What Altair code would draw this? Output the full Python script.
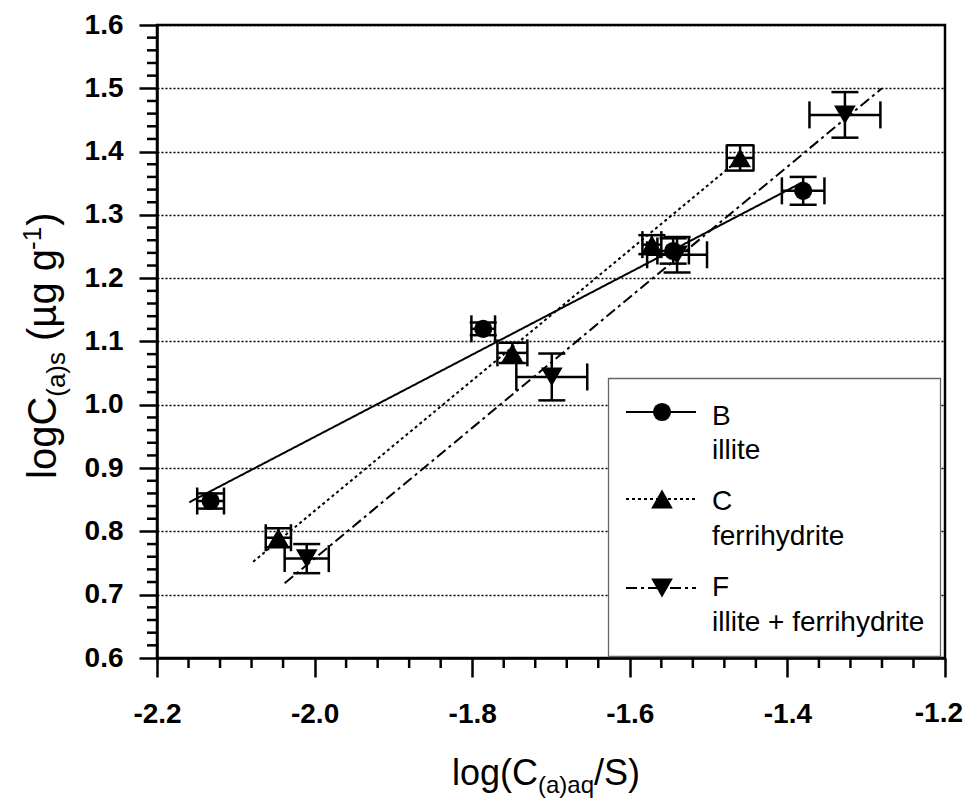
import altair as alt
import pandas as pd

# ---------------- data ----------------
series_names = ["B", "C", "F"]
series_labels = ["illite", "ferrihydrite", "illite + ferrihydrite"]

b_x = [-2.132, -1.786, -1.545, -1.380]
b_y = [0.848, 1.120, 1.243, 1.338]
b_xerr = [0.017, 0.015, 0.020, 0.027]
b_yerr = [0.012, 0.010, 0.020, 0.022]

c_x = [-2.046, -1.749, -1.572, -1.460]
c_y = [0.790, 1.082, 1.253, 1.390]
c_xerr = [0.016, 0.019, 0.012, 0.017]
c_yerr = [0.015, 0.016, 0.015, 0.020]

f_x = [-2.010, -1.699, -1.540, -1.327]
f_y = [0.757, 1.044, 1.237, 1.458]
f_xerr = [0.028, 0.045, 0.038, 0.045]
f_yerr = [0.023, 0.037, 0.028, 0.036]

# regression line end points
fit_b_x = [-2.159, -1.380]
fit_b_y = [0.846, 1.352]
fit_c_x = [-2.078, -1.455]
fit_c_y = [0.752, 1.394]
fit_f_x = [-2.038, -1.280]
fit_f_y = [0.718, 1.500]

x_major = [-2.2, -2.0, -1.8, -1.6, -1.4, -1.2]
y_major = [0.6, 0.7, 0.8, 0.9, 1.0, 1.1, 1.2, 1.3, 1.4, 1.5, 1.6]
x_minor = [-2.16, -2.12, -2.08, -2.04, -1.96, -1.92, -1.88, -1.84,
           -1.76, -1.72, -1.68, -1.64, -1.56, -1.52, -1.48, -1.44,
           -1.36, -1.32, -1.28, -1.24]
y_minor = [0.62, 0.64, 0.66, 0.68, 0.72, 0.74, 0.76, 0.78, 0.82, 0.84, 0.86, 0.88,
           0.92, 0.94, 0.96, 0.98, 1.02, 1.04, 1.06, 1.08, 1.12, 1.14, 1.16, 1.18,
           1.22, 1.24, 1.26, 1.28, 1.32, 1.34, 1.36, 1.38, 1.42, 1.44, 1.46, 1.48,
           1.52, 1.54, 1.56, 1.58]

# ---------------- tables ----------------
def pts(name, xs, ys, xe, ye):
    return pd.DataFrame({"series": name, "x": xs, "y": ys, "xerr": xe, "yerr": ye})

points = pd.concat([
    pts("B", b_x, b_y, b_xerr, b_yerr),
    pts("C", c_x, c_y, c_xerr, c_yerr),
    pts("F", f_x, f_y, f_xerr, f_yerr),
], ignore_index=True)

fits = {
    "B": pd.DataFrame({"x": fit_b_x, "y": fit_b_y}),
    "C": pd.DataFrame({"x": fit_c_x, "y": fit_c_y}),
    "F": pd.DataFrame({"x": fit_f_x, "y": fit_f_y}),
}

W, H = 788, 633
FONT = "Liberation Sans"
xs = alt.Scale(domain=[-2.2, -1.2], nice=False, zero=False)
ys = alt.Scale(domain=[0.6, 1.6], nice=False, zero=False)

label_expr = "replace(format(datum.value, '.1f'), '\u2212', '-')"
# the last x label is drawn separately (right-aligned) so it stays inside the page
x_label_expr = "datum.value > -1.25 ? '' : " + label_expr

x_axis = alt.Axis(values=x_major, labelExpr=x_label_expr, title=None, grid=False,
                  tickSize=19, tickWidth=2.5, tickColor="black",
                  domainWidth=2.5, domainColor="black",
                  labelFont=FONT, labelFontSize=28, labelFontWeight="bold",
                  labelColor="black", labelPadding=23, labelFlush=False)
y_axis = alt.Axis(values=y_major, labelExpr=label_expr, title=None, grid=True,
                  gridDash=[2, 2], gridColor="black", gridWidth=1.3, gridOpacity=1,
                  tickSize=18, tickWidth=2.5, tickColor="black",
                  domainWidth=2.5, domainColor="black",
                  labelFont=FONT, labelFontSize=28, labelFontWeight="bold",
                  labelColor="black", labelPadding=16, labelFlush=False)


def X(f):
    return alt.X(f, scale=xs, axis=x_axis)


def Y(f):
    return alt.Y(f, scale=ys, axis=y_axis)


one = pd.DataFrame({"k": [0]})

# minor ticks
minor_y = alt.Chart(pd.DataFrame({"v": y_minor})).mark_rule(
    color="black", strokeWidth=2.5
).encode(y=Y("v:Q"), x=alt.value(0), x2=alt.value(-10))
minor_x = alt.Chart(pd.DataFrame({"v": x_minor})).mark_rule(
    color="black", strokeWidth=2.5
).encode(x=X("v:Q"), y=alt.value(H), y2=alt.value(H + 10))

dashes = {"B": [1, 0], "C": [3, 3], "F": [11, 4, 3, 4]}
shapes = {"B": "circle", "C": "triangle-up", "F": "triangle-down"}
sizes = {"B": 330, "C": 470, "F": 470}

layers = [minor_y, minor_x]

for s in series_names:
    layers.append(
        alt.Chart(fits[s]).mark_line(color="black", strokeWidth=2, strokeDash=dashes[s]).encode(
            x=X("x:Q"), y=Y("y:Q"))
    )

err = alt.Chart(points).transform_calculate(
    xlo="datum.x - datum.xerr", xhi="datum.x + datum.xerr",
    ylo="datum.y - datum.yerr", yhi="datum.y + datum.yerr",
)
layers += [
    err.mark_rule(color="black", strokeWidth=2.5).encode(x=X("xlo:Q"), x2="xhi:Q", y=Y("y:Q")),
    err.mark_rule(color="black", strokeWidth=2.5).encode(x=X("x:Q"), y=Y("ylo:Q"), y2="yhi:Q"),
]
for fld in ["xlo", "xhi"]:
    layers.append(err.mark_tick(orient="vertical", size=27, thickness=2.5, color="black", opacity=1).encode(
        x=X(f"{fld}:Q"), y=Y("y:Q")))
for fld in ["ylo", "yhi"]:
    layers.append(err.mark_tick(orient="horizontal", size=27, thickness=2.5, color="black", opacity=1).encode(
        x=X("x:Q"), y=Y(f"{fld}:Q")))

for s in series_names:
    layers.append(
        alt.Chart(points).transform_filter(alt.datum.series == s).mark_point(
            filled=True, opacity=1, color="black", shape=shapes[s], size=sizes[s], strokeWidth=0
        ).encode(x=X("x:Q"), y=Y("y:Q"))
    )

# ---------------- legend ----------------
layers.append(
    alt.Chart(one).mark_rect(fill="white", stroke="#666666", strokeWidth=1.3).encode(
        x=alt.value(451.5), x2=alt.value(783.5), y=alt.value(353.5), y2=alt.value(631.5))
)
leg_y = {"B": 387, "C": 474, "F": 563}
for i, s in enumerate(series_names):
    layers.append(alt.Chart(one).mark_rule(color="black", strokeWidth=2, strokeDash=dashes[s]).encode(
        x=alt.value(469), x2=alt.value(539), y=alt.value(leg_y[s])))
    layers.append(alt.Chart(one).mark_point(filled=True, opacity=1, color="black", shape=shapes[s],
                                            size=sizes[s], strokeWidth=0).encode(
        x=alt.value(505), y=alt.value(leg_y[s])))

leg_text = [("B", 400), (series_labels[0], 434), ("C", 485), (series_labels[1], 520),
            ("F", 571), (series_labels[2], 606)]


def txt(t, x, y, size, angle=0, align="left", baseline="alphabetic", weight="normal"):
    kw = dict(align=align, baseline=baseline, font=FONT, fontSize=size, color="black",
              fontWeight=weight)
    if angle:
        kw["angle"] = angle
    return alt.Chart(one).mark_text(**kw).encode(x=alt.value(x), y=alt.value(y), text=alt.value(t))


for t, yy in leg_text:
    layers.append(txt(t, 555, yy, 28))

# last x tick label
layers.append(txt("-1.2", W + 18, H + 19 + 23, 28, align="right", baseline="top", weight="bold"))

# ---------------- axis titles (with sub/superscripts) ----------------
TS, SS = 36, 24
xt0, xb = 295, 760
layers += [
    txt("log(C", xt0, xb, TS),
    txt("(a)aq", xt0 + 86, xb + 8, SS),
    txt("/S)", xt0 + 86 + 56, xb, TS),
]
# y title (rotated, reading upward)
YS, YSS = 40, 26
yb, yt0 = -101, 454
w1 = 2.056 * YS
w2 = 1.722 * YSS
w3 = 2.577 * YS
w4 = 0.889 * YSS
layers += [
    txt("logC", yb, yt0, YS, 270),
    txt("(a)s", yb + 9, yt0 - w1, YSS, 270),
    txt("(\u00b5g g", yb, yt0 - w1 - w2 - 11, YS, 270),
    txt("-1", yb - 15, yt0 - w1 - w2 - w3 + 1, YSS, 270),
    txt(")", yb, yt0 - w1 - w2 - w3 - w4, YS, 270),
]

chart = alt.layer(*layers).properties(
    width=W, height=H,
    autosize=alt.AutoSizeParams(type="none"),
    padding={"left": 149, "top": 17, "right": 19, "bottom": 140},
).configure_view(stroke="black", strokeWidth=2.5)

chart.save("out.html", embed_options={"renderer": "svg", "actions": False})
